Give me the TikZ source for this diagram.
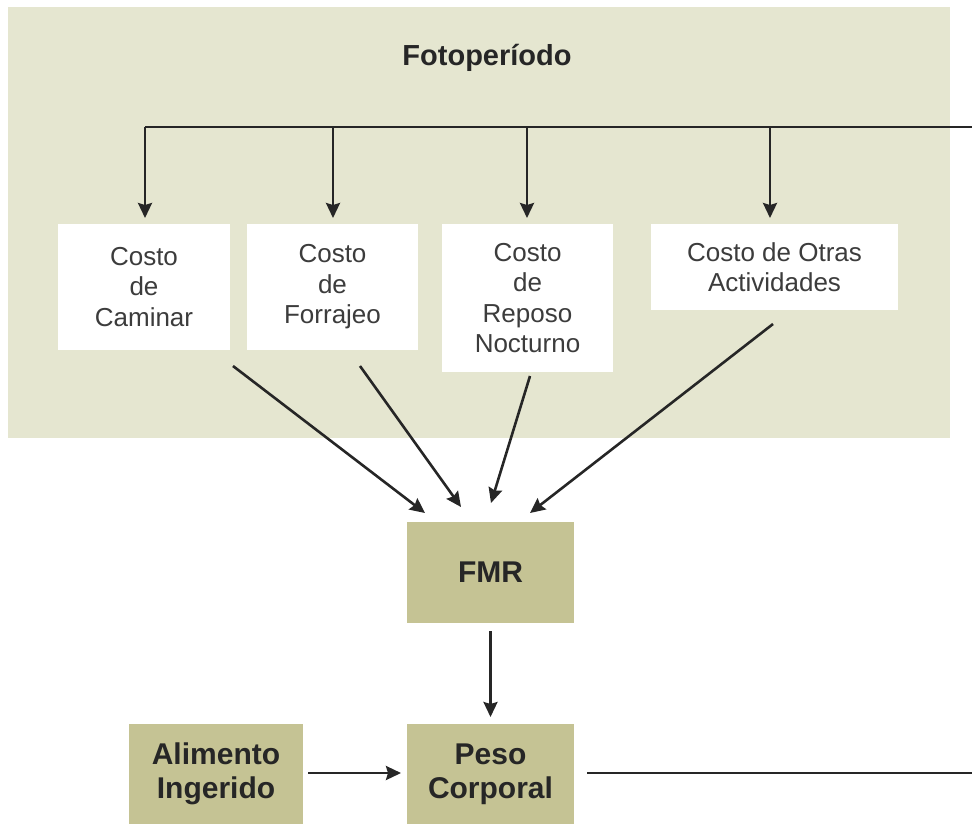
\documentclass[tikz,border=0pt]{standalone}
\usepackage{fontspec}
\setmainfont{Liberation Sans}
\usetikzlibrary{arrows.meta}
\definecolor{panel}{HTML}{E5E6D0}
\definecolor{olive}{HTML}{C5C394}
\definecolor{ink}{HTML}{262626}
\begin{document}
\begin{tikzpicture}[x=1pt,y=-1pt,
  costbox/.style={fill=white,draw=none,align=center,text=ink!90,font=\fontsize{26}{30.5}\selectfont,inner sep=0pt},
  olivebox/.style={fill=olive,draw=none,align=center,text=ink,font=\bfseries\fontsize{30}{34}\selectfont,inner sep=0pt},
  conn/.style={draw=ink,line width=2.6pt},
  arr/.style={conn,-{Stealth[length=15pt,width=14pt,inset=2pt]}}]
\useasboundingbox (0,0) rectangle (972,823);
\fill[panel] (8,7) rectangle (950,438);
\node[text=ink,font=\bfseries\fontsize{29}{34}\selectfont] (foto) at (487,58) {Fotoperíodo};
% boxes
\node[costbox,minimum width=172pt,minimum height=126pt] (cam) at (144,287) {Costo\\de\\Caminar};
\node[costbox,minimum width=171pt,minimum height=126pt] (forr) at (332.5,287) {Costo\\de\\Forrajeo};
\node[costbox,minimum width=171pt,minimum height=148pt] (rep) at (527.5,298) {Costo\\de\\Reposo\\Nocturno};
\node[costbox,minimum width=247pt,minimum height=86pt] (otr) at (774.5,267) {Costo de Otras\\Actividades};
\node[olivebox,minimum width=167pt,minimum height=101pt] (fmr) at (490.5,572.5) {FMR};
\node[olivebox,minimum width=174pt,minimum height=100pt] (ali) at (216,774) {Alimento\\Ingerido};
\node[olivebox,minimum width=167pt,minimum height=100pt] (peso) at (490.5,774) {Peso\\Corporal};
% top bus
\coordinate (busL) at (145,127);
\coordinate (busR) at (972,127);
\coordinate (b2) at (333,127);
\coordinate (b3) at (527,127);
\coordinate (b4) at (770,127);
\draw[conn] (busL) -- (busR);
\draw[arr] (busL) -- (145,218);
\draw[arr] (b2) -- (333,218);
\draw[arr] (b3) -- (527,218);
\draw[arr] (b4) -- (770,218);
% arrows to FMR
\coordinate (c1) at (233,366);
\coordinate (c2) at (360,366);
\coordinate (c3) at (530,376);
\coordinate (c4) at (773,324);
\draw[arr] (c1) -- (425,513);
\draw[arr] (c2) -- (461,507);
\draw[arr] (c3) -- (491,503);
\draw[arr] (c4) -- (530,513);
% bottom
\coordinate (f1) at (490.5,631);
\coordinate (p1) at (490.5,717);
\draw[arr] (f1) -- (p1);
\coordinate (a1) at (308,773);
\coordinate (a2) at (401,773);
\draw[arr] (a1) -- (a2);
\coordinate (outL) at (587,773);
\coordinate (outR) at (972,773);
\draw[conn] (outL) -- (outR);
\end{tikzpicture}
\end{document}
